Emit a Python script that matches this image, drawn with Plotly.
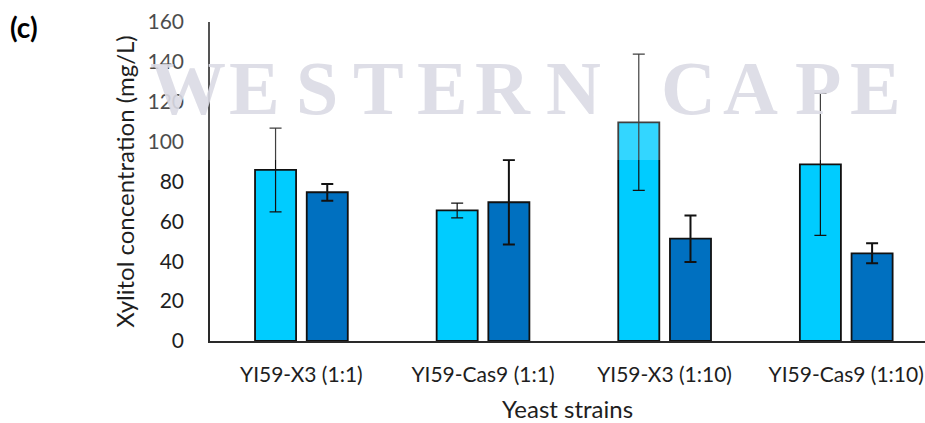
import plotly.graph_objects as go

# Xylitol production per yeast strain (mg/L), two conditions per strain
strains = ["YI59-X3 (1:1)", "YI59-Cas9 (1:1)", "YI59-X3 (1:10)", "YI59-Cas9 (1:10)"]
light_vals = [85.8, 65.5, 109.7, 88.6]
light_err = [21.0, 3.7, 34.2, 35.6]
dark_vals = [74.6, 69.6, 51.3, 44.0]
dark_err = [4.2, 21.2, 11.7, 5.0]

# Watermark letters and their horizontal centres (pixels)
wm_letters = list("WESTERNCAPE")
wm_centres = [188, 254, 317, 378, 442, 503, 573, 688, 750, 818, 875]

W, H = 925, 423
L, R, T, B = 210, 0, 22, 82
plot_w = W - L - R
plot_h = H - T - B

FONT = "Lato"
TXT = "#1e1e1e"

fig = go.Figure()

bar_w = 0.226
fig.add_trace(go.Bar(
    x=strains, y=light_vals, width=bar_w, offset=-0.255,
    marker=dict(color="#00CCFF", line=dict(color="#111111", width=1.8)),
    error_y=dict(type="data", array=light_err, visible=True,
                 color="#111111", thickness=1.2, width=6),
    showlegend=False,
))
fig.add_trace(go.Bar(
    x=strains, y=dark_vals, width=bar_w, offset=0.0297,
    marker=dict(color="#0070C0", line=dict(color="#111111", width=1.8)),
    error_y=dict(type="data", array=dark_err, visible=True,
                 color="#111111", thickness=2, width=6),
    showlegend=False,
))


def px_to_xpaper(px):
    return (px - L) / plot_w


def px_to_ypaper(py):
    return (H - B - py) / plot_h


annotations = []
# faint serif watermark
for ch, cx in zip(wm_letters, wm_centres):
    annotations.append(dict(
        text="<b>" + ch + "</b>", xref="paper", yref="paper",
        x=px_to_xpaper(cx), y=px_to_ypaper(88),
        xanchor="center", yanchor="middle", showarrow=False,
        font=dict(family="Liberation Serif", size=76, color="rgba(218,218,228,0.9)"),
    ))

# panel label
annotations.append(dict(
    text="<b>(c)</b>", xref="paper", yref="paper",
    x=px_to_xpaper(8), y=px_to_ypaper(27),
    xanchor="left", yanchor="middle", showarrow=False,
    font=dict(family=FONT, size=28, color="#000000"),
))

fig.update_layout(
    width=W, height=H,
    margin=dict(l=L, r=R, t=T, b=B, pad=0),
    paper_bgcolor="white", plot_bgcolor="white",
    barmode="group",
    annotations=annotations,
    shapes=[dict(
        type="rect", xref="paper", yref="paper",
        x0=px_to_xpaper(140), x1=1.0,
        y0=px_to_ypaper(160), y1=px_to_ypaper(-5),
        fillcolor="rgba(255,255,255,0.2)", line=dict(width=0), layer="above",
    )],
    font=dict(family=FONT, color=TXT),
)

fig.update_xaxes(
    range=[-0.503, 3.434],
    showline=True, linecolor="#2a2a2a", linewidth=1.5,
    showgrid=False, ticks="", zeroline=False,
    tickfont=dict(family=FONT, size=21, color=TXT),
    ticklabelstandoff=14,
    title=dict(text="Yeast strains", font=dict(family=FONT, size=24, color=TXT), standoff=16),
)
fig.update_yaxes(
    range=[0, 160], dtick=20,
    showline=True, linecolor="#2a2a2a", linewidth=1.5,
    showgrid=False, ticks="", zeroline=False,
    tickfont=dict(family=FONT, size=21, color=TXT),
    ticklabelstandoff=20,
    title=dict(text="Xylitol concentration (mg/L)", font=dict(family=FONT, size=24, color=TXT), standoff=6),
)

fig.write_html("out.html")
